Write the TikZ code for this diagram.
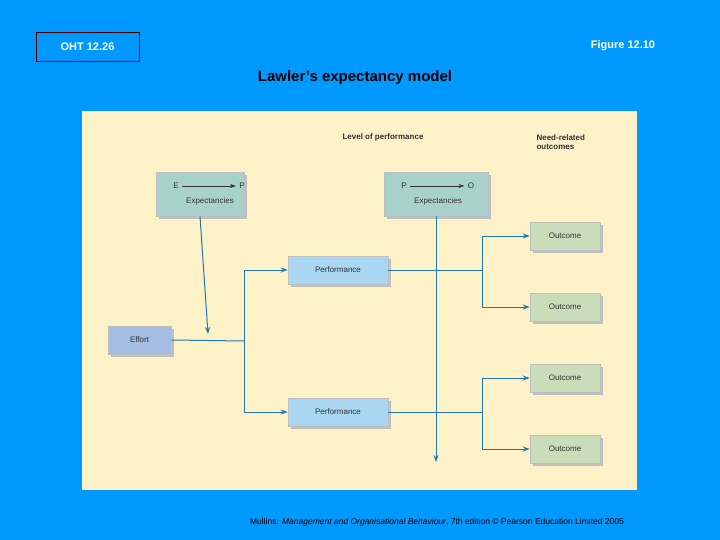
\documentclass[tikz,border=0pt]{standalone}
\usepackage{fontspec}
\setmainfont{Liberation Sans}
\usetikzlibrary{arrows.meta}
\definecolor{bg}{HTML}{0099FF}
\definecolor{panel}{HTML}{FDF1C8}
\definecolor{teal}{HTML}{A9D1CB}
\definecolor{perf}{HTML}{A9D6F2}
\definecolor{eff}{HTML}{A3BEE2}
\definecolor{outc}{HTML}{C9DDBB}
\definecolor{ln}{HTML}{1F78B4}
\definecolor{tx}{HTML}{333333}
\begin{document}
\begin{tikzpicture}[x=1pt,y=-1pt,
 bx/.style={draw=black!25,line width=0.6pt,minimum height=28pt,inner sep=0pt,font=\fontsize{8}{9}\selectfont,text=tx,
   preaction={fill=black!25,transform canvas={shift={(3pt,-3pt)}}}},
 ar/.style={draw=ln,line width=1pt,-{Stealth[length=7pt,width=5pt]}},
 li/.style={draw=ln,line width=1pt}]
\fill[bg] (0,0) rectangle (720,540);
\useasboundingbox (0,0) rectangle (720,540);
\fill[panel] (82,111) rectangle (637,490);
\node[draw=black!70!red,line width=0.8pt,minimum width=103pt,minimum height=29pt,text=white,font=\bfseries\fontsize{11}{13}\selectfont] (oht) at (87.5,46.5) {OHT 12.26};
\node[text=white,font=\bfseries\fontsize{11}{13}\selectfont] (fig) at (623,46) {Figure 12.10};
\node[text=black,font=\bfseries\fontsize{15}{18}\selectfont] (title) at (355,78) {Lawler’s expectancy model};
\node[font=\fontsize{8.5}{10}\selectfont,text=black] (foot) at (437,522) {Mullins: \textit{Management and Organisational Behaviour}, 7th edition © Pearson Education Limited 2005};
\node[font=\bfseries\fontsize{8}{9}\selectfont,text=tx] (lvl) at (383,137) {Level of performance};
\node[font=\bfseries\fontsize{8}{9.5}\selectfont,text=tx,align=left,anchor=north west] (need) at (533,131) {Need-related\\outcomes};
\node[bx,fill=teal,minimum width=88pt,minimum height=44pt] (ep) at (200,194) {};
\node[bx,fill=teal,minimum width=104pt,minimum height=44pt] (po) at (436,194) {};
\node[font=\fontsize{8}{9}\selectfont,text=tx] (epe) at (176,186) {E};
\node[font=\fontsize{8}{9}\selectfont,text=tx] (epp) at (242,186) {P};
\draw[draw=tx,line width=0.5pt,-{Stealth[length=6pt,width=4pt]}] (epe) -- (epp);
\node[font=\fontsize{8}{9}\selectfont,text=tx] (ept) at (210,201) {Expectancies};
\node[font=\fontsize{8}{9}\selectfont,text=tx] (pop) at (404,186) {P};
\node[font=\fontsize{8}{9}\selectfont,text=tx] (poo) at (471,186) {O};
\draw[draw=tx,line width=0.5pt,-{Stealth[length=6pt,width=4pt]}] (pop) -- (poo);
\node[font=\fontsize{8}{9}\selectfont,text=tx] (pot) at (438,201) {Expectancies};
\node[bx,fill=perf,minimum width=100pt] (p1) at (338,270) {Performance};
\node[bx,fill=perf,minimum width=100pt] (p2) at (338,412) {Performance};
\node[bx,fill=eff,minimum width=63pt] (eff) at (139.5,340) {Effort};
\foreach \n/\y in {o1/236,o2/307,o3/378,o4/449}
  \node[bx,fill=outc,minimum width=70pt] (\n) at (565,\y) {Outcome};
\coordinate (j1) at (244,341);
\coordinate (j2) at (482,270);
\coordinate (j3) at (482,412);
\coordinate (poend) at (436,462);
\draw[li] (eff.east) -- (j1);
\draw[ar] (ep.south) -- (208,334);
\draw[ar] (j1) |- (p1.west);
\draw[ar] (j1) |- (p2.west);
\draw[li] (p1.east) -- (j2);
\draw[li] (p2.east) -- (j3);
\draw[ar] (j2) |- (o1.west);
\draw[ar] (j2) |- (o2.west);
\draw[ar] (j3) |- (o3.west);
\draw[ar] (j3) |- (o4.west);
\draw[ar] (po.south) -- (poend);
\end{tikzpicture}
\end{document}
